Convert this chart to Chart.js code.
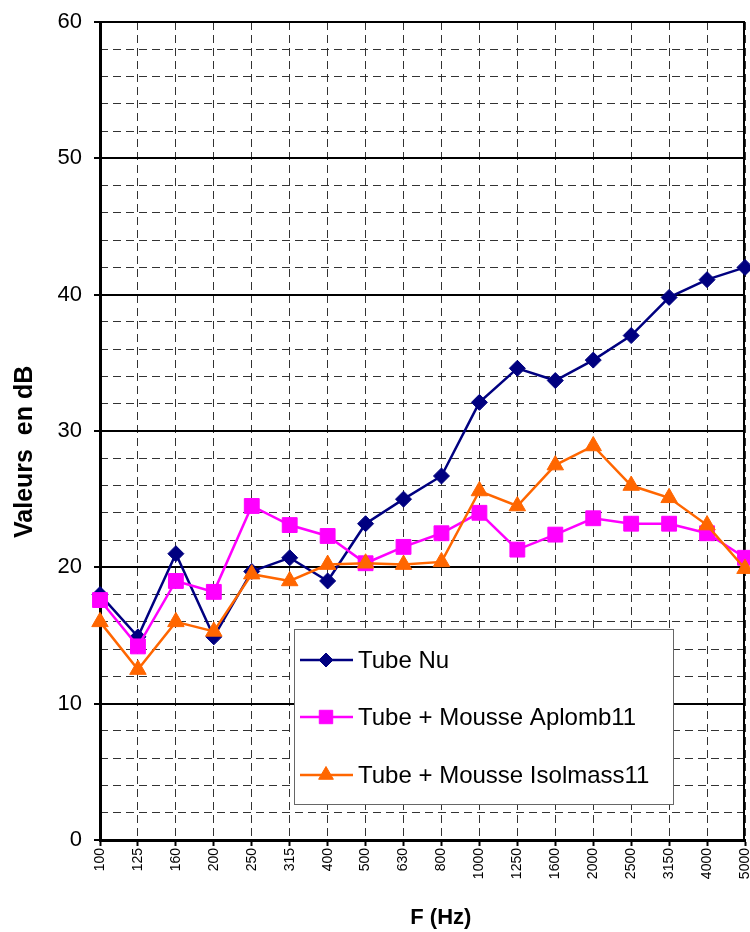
<!DOCTYPE html>
<html>
<head>
<meta charset="utf-8">
<script src="https://cdn.jsdelivr.net/npm/chart.js@4.4.0/dist/chart.umd.min.js"></script>
<style>
  html, body { margin: 0; padding: 0; background: #fff; }
</style>
</head>
<body>
<canvas id="chart" width="750" height="932"></canvas>
<script>
// Données
const frequences = ['100', '125', '160', '200', '250', '315', '400', '500', '630', '800',
  '1000', '1250', '1600', '2000', '2500', '3150', '4000', '5000'];
const tubeNu = [18.0, 14.9, 21.0, 14.9, 19.7, 20.7, 19.0, 23.2, 25.0, 26.7,
  32.1, 34.6, 33.7, 35.2, 37.0, 39.8, 41.1, 42.0];
const tubeAplomb = [17.6, 14.2, 19.0, 18.2, 24.5, 23.1, 22.3, 20.3, 21.5, 22.5,
  24.0, 21.3, 22.4, 23.6, 23.2, 23.2, 22.5, 20.7];
const tubeIsolmass = [16.0, 12.5, 16.0, 15.3, 19.5, 19.0, 20.2, 20.3, 20.2, 20.4,
  25.6, 24.5, 27.5, 28.9, 26.0, 25.1, 23.1, 19.9];
const nomsSeries = ['Tube Nu', 'Tube + Mousse Aplomb11', 'Tube + Mousse Isolmass11'];

const FONT = '"Liberation Sans", Arial, sans-serif';
const TIRETS = [8, 5];

// bord droit de la zone de tracé
const cadre = {
  id: 'cadre',
  beforeDatasetsDraw(chart) {
    const { ctx, chartArea: a } = chart;
    ctx.save();
    ctx.strokeStyle = '#000';
    ctx.lineWidth = 2;
    ctx.beginPath();
    ctx.moveTo(a.right - 1, a.top);
    ctx.lineTo(a.right - 1, a.bottom);
    ctx.stroke();
    ctx.restore();
  }
};

// légende dans la zone de tracé, comme dans Excel
const legende = {
  id: 'legende',
  afterDraw(chart) {
    const ctx = chart.ctx;
    const x = 294, y = 629, w = 379, h = 175;
    ctx.save();
    ctx.fillStyle = '#fff';
    ctx.fillRect(x, y, w, h);
    ctx.strokeStyle = '#666';
    ctx.lineWidth = 1;
    ctx.strokeRect(x + 0.5, y + 0.5, w, h);
    const lignes = [660, 717, 775];
    ctx.font = '24px ' + FONT;
    ctx.textBaseline = 'middle';
    chart.data.datasets.forEach((ds, i) => {
      const yy = lignes[i];
      ctx.strokeStyle = ds.borderColor;
      ctx.lineWidth = ds.borderWidth;
      ctx.beginPath();
      ctx.moveTo(300, yy);
      ctx.lineTo(353, yy);
      ctx.stroke();
      ctx.fillStyle = ds.pointBackgroundColor;
      ctx.strokeStyle = ds.pointBorderColor;
      ctx.lineWidth = 1;
      Chart.helpers.drawPoint(ctx, {
        pointStyle: ds.pointStyle, radius: ds.pointRadius - 1, rotation: 0, borderWidth: 1
      }, 326, yy);
      ctx.fillStyle = '#000';
      ctx.fillText(ds.label, 358, yy + 1);
    });
    ctx.restore();
  }
};

new Chart(document.getElementById('chart'), {
  type: 'line',
  data: {
    labels: frequences,
    datasets: [
      {
        label: nomsSeries[0], data: tubeNu, order: 3,
        borderColor: '#000080', borderWidth: 2.5,
        pointStyle: 'rectRot', pointRadius: 8,
        pointBackgroundColor: '#000080', pointBorderColor: '#000080', pointBorderWidth: 1
      },
      {
        label: nomsSeries[1], data: tubeAplomb, order: 2,
        borderColor: '#FF00FF', borderWidth: 2.5,
        pointStyle: 'rect', pointRadius: 10.5,
        pointBackgroundColor: '#FF00FF', pointBorderColor: '#FF00FF', pointBorderWidth: 1
      },
      {
        label: nomsSeries[2], data: tubeIsolmass, order: 1,
        borderColor: '#FF6600', borderWidth: 2.5,
        pointStyle: 'triangle', pointRadius: 9.5,
        pointBackgroundColor: '#FF6600', pointBorderColor: '#FF6600', pointBorderWidth: 1
      }
    ]
  },
  options: {
    responsive: false,
    animation: false,
    clip: false,
    layout: { autoPadding: false, padding: { top: 22, right: 5, left: 0, bottom: 0 } },
    elements: { line: { tension: 0 } },
    plugins: { legend: { display: false }, tooltip: { enabled: false } },
    scales: {
      x: {
        offset: false,
        grid: { color: '#333', lineWidth: 1, tickLength: 6, tickColor: '#000', tickWidth: 2 },
        border: { display: true, color: '#000', width: 3, dash: TIRETS },
        ticks: { color: '#000', font: { family: FONT, size: 14 }, minRotation: 90, maxRotation: 90, autoSkip: false, padding: 2 },
        // espaces en tête : le titre d'origine est décalé vers la droite
        title: { display: true, text: '      F (Hz)', color: '#000', font: { family: FONT, size: 22, weight: 'bold' }, padding: { top: 0, bottom: 1 } },
        afterFit(s) { s.height = 92; s.paddingLeft = 0; s.paddingRight = 0; }
      },
      y: {
        min: 0, max: 60,
        grid: { color: '#000', lineWidth: 2, tickLength: 6, tickColor: '#000', tickWidth: 2 },
        border: { display: true, color: '#000', width: 3 },
        ticks: { stepSize: 10, color: '#000', font: { family: FONT, size: 22 }, padding: 12 },
        // espaces en fin : le titre d'origine est décalé vers le bas
        title: { display: true, text: 'Valeurs  en dB      ', color: '#000', font: { family: FONT, size: 25, weight: 'bold' }, padding: { top: 10, bottom: 0 } },
        afterFit(s) { s.width = 100; s.paddingTop = 0; s.paddingBottom = 0; }
      },
      yMineur: {
        position: 'right',
        min: 0, max: 60,
        grid: {
          color: c => (c.tick && c.tick.value % 10 === 0) ? 'rgba(0,0,0,0)' : '#333',
          lineWidth: 1, drawTicks: false
        },
        border: { display: false, dash: TIRETS },
        ticks: { stepSize: 2, display: false },
        afterFit(s) { s.paddingTop = 0; s.paddingBottom = 0; }
      }
    }
  },
  plugins: [cadre, legende]
});
</script>
</body>
</html>
